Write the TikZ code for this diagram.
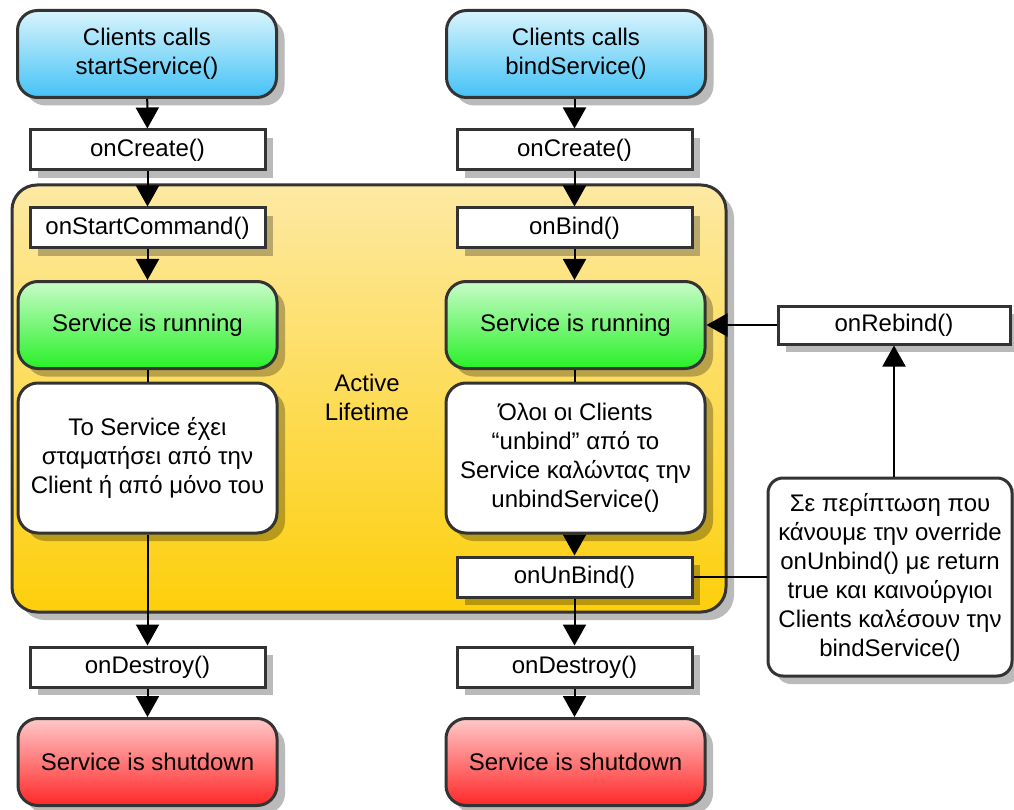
\documentclass[tikz,border=0pt]{standalone}
\usepackage{fontspec}
\setmainfont{Liberation Sans}
\usetikzlibrary{arrows.meta}
\definecolor{bord}{HTML}{333333}
\definecolor{blueT}{HTML}{D8F4FC}
\definecolor{blueB}{HTML}{44C2F6}
\definecolor{greenT}{HTML}{C8FCC8}
\definecolor{greenB}{HTML}{28F028}
\definecolor{redT}{HTML}{FFC8C8}
\definecolor{redB}{HTML}{FF2828}
\definecolor{yelT}{HTML}{FDE9A3}
\definecolor{yelB}{HTML}{FDCF0B}
\begin{document}
\begin{tikzpicture}[x=1pt,y=-1pt,
  every node/.style={font=\fontsize{24}{29}\selectfont, align=center, text=black},
  shad/.style={preaction={fill=black,opacity=0.27,transform canvas={shift={(8pt,-8pt)}}}},
  method/.style={shad, draw=bord, line width=3pt, fill=white, minimum width=235pt, minimum height=40pt, inner sep=0pt},
  rbox/.style={shad, draw=bord, line width=3pt, rounded corners=20pt, minimum width=259pt, minimum height=87pt, inner sep=0pt},
  startbox/.style={rbox, top color=blueT, bottom color=blueB},
  runbox/.style={rbox, top color=greenT, bottom color=greenB},
  stopbox/.style={rbox, top color=redT, bottom color=redB},
  textbox/.style={rbox, fill=white, minimum height=150pt},
  activebox/.style={shad, draw=bord, line width=3pt, rounded corners=25pt, top color=yelT, bottom color=yelB, minimum width=714pt, minimum height=427pt, inner sep=0pt},
  arr/.style={-{Triangle[width=23pt,length=21pt]}, line width=2pt},
  ln/.style={line width=2pt}
]
\useasboundingbox (0,0) rectangle (1014,810);
% active lifetime area
\node[activebox] (act) at (369,398.5) {};
\node (actlbl) at (367,397) {Active\\Lifetime};

% left column
\node[startbox] (blueL) at (147,54) {Clients calls\\startService()};
\node[method] (createL) at (147.5,150) {onCreate()};
\node[method] (startcmd) at (147.5,228) {onStartCommand()};
\node[runbox] (runL) at (147.5,325) {Service is running};
\node[textbox] (textL) at (147.5,458) {Το Service έχει\\σταματήσει από την\\Client ή από μόνο του};
\node[method] (destroyL) at (147.5,667) {onDestroy()};
\node[stopbox] (shutL) at (147.5,762) {Service is shutdown};

% right column
\node[startbox] (blueR) at (576,54) {Clients calls\\bindService()};
\node[method] (createR) at (574.5,150) {onCreate()};
\node[method] (bind) at (574.5,228) {onBind()};
\node[runbox] (runR) at (575.5,325) {Service is running};
\node[textbox] (textR) at (575.5,458) {Όλοι οι Clients\\“unbind” από το\\Service καλώντας την\\unbindService()};
\node[method] (unbind) at (574.5,577) {onUnBind()};
\node[method] (destroyR) at (574.5,667) {onDestroy()};
\node[stopbox] (shutR) at (575.5,762) {Service is shutdown};

% side
\node[method, minimum width=232pt, minimum height=38pt] (rebind) at (894,325) {onRebind()};
\node[shad, draw=bord, line width=3pt, fill=white, rounded corners=15pt, minimum width=244pt, minimum height=198pt, inner sep=0pt] (note) at (890,577)
  {Σε περίπτωση που\\κάνουμε την override\\onUnbind() με return\\true και καινούργιοι\\Clients καλέσουν την\\bindService()};

% connectors left
\draw[arr] (blueL) -- (createL);
\draw[arr] (createL) -- (startcmd);
\draw[arr] (startcmd) -- (runL);
\draw[ln] (runL) -- (textL);
\draw[arr] (textL) -- (destroyL);
\draw[arr] (destroyL) -- (shutL);

% connectors right
\draw[arr] (blueR.south -| createR) -- (createR);
\draw[arr] (createR) -- (bind);
\draw[arr] (bind) -- (bind |- runR.north);
\draw[ln] (runR.south -| bind) -- (textR.north -| bind);
\draw[arr] (textR.south -| bind) -- (unbind);
\draw[arr] (unbind) -- (destroyR);
\draw[arr] (destroyR) -- (destroyR |- shutR.north);

% side connectors
\draw[arr] (rebind) -- (runR);
\draw[arr] (rebind.south |- note.north) -- (rebind.south);
\draw[ln] (unbind.east) -- (note.west |- unbind.east);
\end{tikzpicture}
\end{document}
